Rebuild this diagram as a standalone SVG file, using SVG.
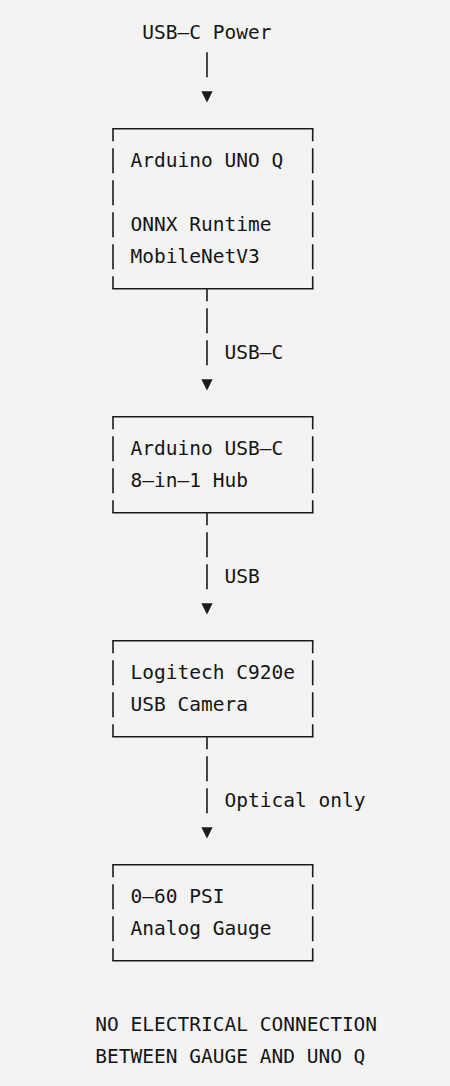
<svg xmlns="http://www.w3.org/2000/svg" width="450" height="1086" viewBox="0 0 450 1086">
  <style>
    .t { font-family: "DejaVu Sans Mono", "Liberation Mono", monospace; font-size: 19.5px; fill: #151515; }
    .h { fill: none; stroke: #1b1b1b; stroke-width: 1.6; }
    .v { fill: none; stroke: #1b1b1b; stroke-width: 1.6; stroke-dasharray: 25 7; stroke-dashoffset: 12.5; }
    .a { fill: #1b1b1b; }
  </style>
  <defs>
    <path id="arr" d="M-5.6,-5.6 L5.6,-5.6 L0,5.8 Z"/>
  </defs>
  <rect x="0" y="0" width="450" height="1086" fill="#f3f3f3"/>

  <g id="source">
    <text class="t" x="142.35" y="38.75">USB–C Power</text>
  </g>

  <g id="connectors">
    <g id="c-power">
      <path class="h" d="M207,52.25 V77.25"/>
      <use href="#arr" class="a" x="207" y="96.75"/>
    </g>
    <g id="c-usbc">
      <path class="v" d="M207,288.75 V365.25"/>
      <use href="#arr" class="a" x="207" y="384.75"/>
      <text class="t" x="224.6" y="358.75">USB–C</text>
    </g>
    <g id="c-usb">
      <path class="v" d="M207,512.75 V589.25"/>
      <use href="#arr" class="a" x="207" y="608.75"/>
      <text class="t" x="224.6" y="582.75">USB</text>
    </g>
    <g id="c-optical">
      <path class="v" d="M207,736.75 V813.25"/>
      <use href="#arr" class="a" x="207" y="832.75"/>
      <text class="t" x="224.6" y="806.75">Optical only</text>
    </g>
  </g>

  <g id="uno-q">
    <path class="h" d="M112.2,128.75 H313.5 M112.2,288.75 H313.5"/>
    <path class="v" d="M113,128.75 V288.75 M312.7,128.75 V288.75"/>
    <text class="t" x="130.6" y="166.75">Arduino UNO Q</text>
    <text class="t" x="130.6" y="230.75">ONNX Runtime</text>
    <text class="t" x="130.6" y="262.75">MobileNetV3</text>
  </g>

  <g id="hub">
    <path class="h" d="M112.2,416.75 H313.5 M112.2,512.75 H313.5"/>
    <path class="v" d="M113,416.75 V512.75 M312.7,416.75 V512.75"/>
    <text class="t" x="130.6" y="454.75">Arduino USB–C</text>
    <text class="t" x="130.6" y="486.75">8–in–1 Hub</text>
  </g>

  <g id="camera">
    <path class="h" d="M112.2,640.75 H313.5 M112.2,736.75 H313.5"/>
    <path class="v" d="M113,640.75 V736.75 M312.7,640.75 V736.75"/>
    <text class="t" x="130.6" y="678.75">Logitech C920e</text>
    <text class="t" x="130.6" y="710.75">USB Camera</text>
  </g>

  <g id="gauge">
    <path class="h" d="M112.2,864.75 H313.5 M112.2,960.75 H313.5"/>
    <path class="v" d="M113,864.75 V960.75 M312.7,864.75 V960.75"/>
    <text class="t" x="130.6" y="902.75">0–60 PSI</text>
    <text class="t" x="130.6" y="934.75">Analog Gauge</text>
  </g>

  <g id="note">
    <text class="t" x="95.35" y="1030.75">NO ELECTRICAL CONNECTION</text>
    <text class="t" x="95.35" y="1062.75">BETWEEN GAUGE AND UNO Q</text>
  </g>
</svg>
